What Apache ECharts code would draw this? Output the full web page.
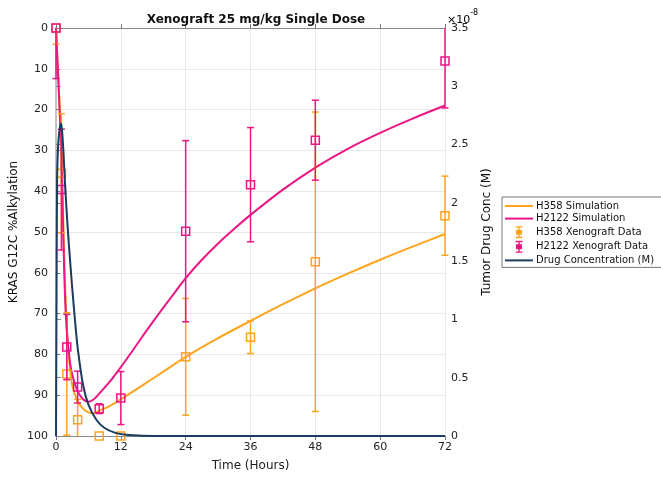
<!DOCTYPE html>
<html>
<head>
<meta charset="utf-8">
<script src="https://cdn.jsdelivr.net/npm/echarts@6/dist/echarts.min.js"></script>
<style>
html,body{margin:0;padding:0;background:#fff;}
#chart{width:661px;height:477px;}
</style>
</head>
<body>
<div id="chart"></div>
<script>
// ---- data ----
const dataTimes = [0, 1, 2, 4, 8, 12, 24, 36, 48, 72];
const h358Data = [0, 35.6, 84.8, 96, 100, 100, 80.6, 75.8, 57.3, 46];
const h358Err  = [4, 14.6, 15, 5, 0, 0, 14.3, 4, 36.7, 9.7];
const h2122Data = [0, 39.6, 78.2, 88, 93.3, 90.7, 49.8, 38.4, 27.5, 8.1];
const h2122Err  = [12.4, 14.8, 8, 3.9, 1.2, 6.5, 22.2, 14, 9.8, 11.5];

const h358SimT = [0, 0.5, 1, 1.5, 2, 2.5, 3, 4, 5, 6, 7, 8, 10, 12, 16, 20, 24, 30, 36, 42, 48, 54, 60, 66, 72];
const h358Sim  = [0, 14, 30, 55, 74, 82, 87.5, 91.5, 93.3, 94.2, 94.4, 93.8, 92.6, 91.0, 87.6, 84.1, 80.6, 76.0, 71.8, 67.7, 63.8, 60.2, 56.8, 53.6, 50.5];

const h2122SimT = [0, 0.5, 1, 1.33, 1.67, 2, 2.5, 3, 4, 5, 6, 7, 8, 10, 12, 14, 16, 18, 20, 22, 24, 27, 30, 33, 36, 42, 48, 54, 60, 66, 72];
const h2122Sim  = [0, 15, 31, 50, 66, 74, 81, 85, 89, 91, 91.6, 91.0, 89.6, 86.6, 83.1, 79.4, 75.6, 71.9, 68.3, 64.8, 61.3, 56.8, 52.8, 49.2, 45.8, 39.6, 34.2, 29.6, 25.7, 22.2, 19];

// drug concentration in units of 1e-8 M
const drugT = [0, 0.05, 0.1, 0.2, 0.35, 0.5, 0.7, 0.9, 1.1, 1.36, 1.7, 2.1, 2.5, 3, 3.5, 4, 5, 6, 7.5, 9, 11, 13, 16, 20, 30, 72];
const drug  = [0, 0.6, 1.2, 2.2, 2.45, 2.56, 2.64, 2.68, 2.63, 2.45, 2.14, 1.83, 1.57, 1.27, 1.0, 0.76, 0.44, 0.27, 0.137, 0.069, 0.027, 0.011, 0.003, 0, 0, 0];

const xTicks = [0, 12, 24, 36, 48, 60, 72];

const C_ORANGE = '#FFA41C';
const C_PINK = '#EB1583';
const C_NAVY = '#1B3B5F';
const FONT = 'DejaVu Sans';

function zip(a, b) { return a.map((v, i) => [v, b[i]]); }
function zip3(a, b, c) { return a.map((v, i) => [v, b[i], c[i]]); }

function errRender(color) {
  return function (params, api) {
    const t = api.value(0), v = api.value(1), e = api.value(2);
    const loV = v - e, hiV = v + e;
    const lo = Math.max(loV, 0), hi = Math.min(hiV, 100);
    const c = api.coord([t, v]);
    const p1 = api.coord([t, lo]);
    const p2 = api.coord([t, hi]);
    const cw = 3.5;
    const st = { stroke: color, lineWidth: 1.5, fill: null };
    const ch = [];
    if (e > 0) {
      ch.push({ type: 'line', shape: { x1: c[0], y1: p1[1], x2: c[0], y2: p2[1] }, style: st });
      if (loV >= 0) ch.push({ type: 'line', shape: { x1: c[0] - cw, y1: p1[1], x2: c[0] + cw, y2: p1[1] }, style: st });
      if (hiV <= 100) ch.push({ type: 'line', shape: { x1: c[0] - cw, y1: p2[1], x2: c[0] + cw, y2: p2[1] }, style: st });
    }
    ch.push({ type: 'rect', shape: { x: c[0] - 4, y: c[1] - 4, width: 8, height: 8 }, style: { stroke: color, lineWidth: 1.5, fill: null } });
    return { type: 'group', children: ch };
  };
}

const errIcon = 'path://M2,0h8v1.6h-8z M5.2,0h1.6v14h-1.6z M2,12.4h8v1.6h-8z M2.5,4h7v6h-7z';
const lineIcon = 'path://M0,0h28v2h-28z';

const chart = echarts.init(document.getElementById('chart'), null, { renderer: 'canvas' });
chart.setOption({
  animation: false,
  backgroundColor: '#fff',
  textStyle: { fontFamily: FONT },
  title: {
    text: 'Xenograft 25 mg/kg Single Dose',
    left: 251, top: 9, textAlign: 'center',
    textStyle: { fontFamily: FONT, fontSize: 12, fontWeight: 'bold', color: '#111' }
  },
  graphic: [{
    type: 'text', left: 447, top: 9,
    style: {
      text: '{a|×10}{b|-8}',
      rich: {
        a: { fontFamily: FONT, fontSize: 11, color: '#333', padding: [6, 0, 0, 0] },
        b: { fontFamily: FONT, fontSize: 8, color: '#333', verticalAlign: 'top' }
      }
    }
  }],
  legend: {
    orient: 'vertical', left: 502, top: 197,
    itemWidth: 28, itemHeight: 12, itemGap: 2.6,
    padding: [4, 14, 2, 3],
    borderColor: '#777', borderWidth: 1,
    textStyle: { fontFamily: FONT, fontSize: 10, color: '#111', padding: [0, 0, 0, -2] },
    data: [
      { name: 'H358 Simulation', icon: lineIcon },
      { name: 'H2122 Simulation', icon: lineIcon },
      { name: 'H358 Xenograft Data', icon: errIcon },
      { name: 'H2122 Xenograft Data', icon: errIcon },
      { name: 'Drug Concentration (M)', icon: lineIcon }
    ]
  },
  grid: { left: 56, right: 216, top: 28, bottom: 41, containLabel: false, outerBoundsMode: 'none' },
  xAxis: [{
    type: 'value', min: 0, max: 72, interval: 12,
    axisLine: { lineStyle: { color: '#888', width: 1 } },
    axisTick: { inside: true, length: 4, lineStyle: { color: '#777' } },
    axisLabel: { fontFamily: FONT, fontSize: 11, color: '#222', margin: 6, formatter: v => xTicks.includes(v) ? String(v) : '' },
    splitLine: { show: true, lineStyle: { color: '#e8e8e8' } },
    name: 'Time (Hours)', nameLocation: 'middle', nameGap: 24,
    nameTextStyle: { fontFamily: FONT, fontSize: 12, color: '#222' }
  }, {
    type: 'value', min: 0, max: 72, interval: 12, position: 'top',
    axisLine: { show: true, lineStyle: { color: '#888', width: 1 } },
    axisTick: { show: true, inside: true, length: 4, lineStyle: { color: '#777' } },
    axisLabel: { show: false }, splitLine: { show: false }
  }],
  yAxis: [{
    type: 'value', inverse: true, min: 0, max: 100, interval: 10,
    axisLine: { show: true, lineStyle: { color: '#888', width: 1 } },
    axisTick: { show: true, inside: true, length: 4, lineStyle: { color: '#777' } },
    axisLabel: { fontFamily: FONT, fontSize: 11, color: '#222', margin: 8 },
    splitLine: { show: true, lineStyle: { color: '#e8e8e8' } },
    name: 'KRAS G12C %Alkylation', nameLocation: 'middle', nameGap: 36, nameRotate: 90,
    nameMoveOverlap: false,
    nameTextStyle: { fontFamily: FONT, fontSize: 12, color: '#111' }
  }, {
    type: 'value', min: 0, max: 3.5, interval: 0.5, position: 'right',
    axisLine: { show: true, lineStyle: { color: '#c4c4c4', width: 2 } },
    axisTick: { show: true, length: 5, lineStyle: { color: '#888' } },
    axisLabel: { fontFamily: FONT, fontSize: 11, color: '#222', margin: 6 },
    splitLine: { show: false },
    name: 'Tumor Drug Conc (M)', nameLocation: 'middle', nameGap: 36, nameRotate: 90,
    nameTextStyle: { fontFamily: FONT, fontSize: 12, color: '#111' }
  }],
  series: [{
    name: 'H358 Simulation', type: 'line', xAxisIndex: 0, yAxisIndex: 0,
    data: zip(h358SimT, h358Sim), symbol: 'none', smooth: 0.3,
    lineStyle: { color: C_ORANGE, width: 2 }, itemStyle: { color: C_ORANGE }, z: 2
  }, {
    name: 'H2122 Simulation', type: 'line', xAxisIndex: 0, yAxisIndex: 0,
    data: zip(h2122SimT, h2122Sim), symbol: 'none', smooth: 0.3,
    lineStyle: { color: C_PINK, width: 2 }, itemStyle: { color: C_PINK }, z: 2
  }, {
    name: 'H358 Xenograft Data', type: 'custom', xAxisIndex: 0, yAxisIndex: 0,
    data: zip3(dataTimes, h358Data, h358Err), encode: { x: 0, y: 1 },
    renderItem: errRender(C_ORANGE), itemStyle: { color: C_ORANGE }, z: 3
  }, {
    name: 'H2122 Xenograft Data', type: 'custom', xAxisIndex: 0, yAxisIndex: 0,
    data: zip3(dataTimes, h2122Data, h2122Err), encode: { x: 0, y: 1 },
    renderItem: errRender(C_PINK), itemStyle: { color: C_PINK }, z: 4
  }, {
    name: 'Drug Concentration (M)', type: 'line', xAxisIndex: 0, yAxisIndex: 1,
    data: zip(drugT, drug), symbol: 'none', smooth: 0.2,
    lineStyle: { color: C_NAVY, width: 2 }, itemStyle: { color: C_NAVY }, z: 5
  }]
});
</script>
</body>
</html>
